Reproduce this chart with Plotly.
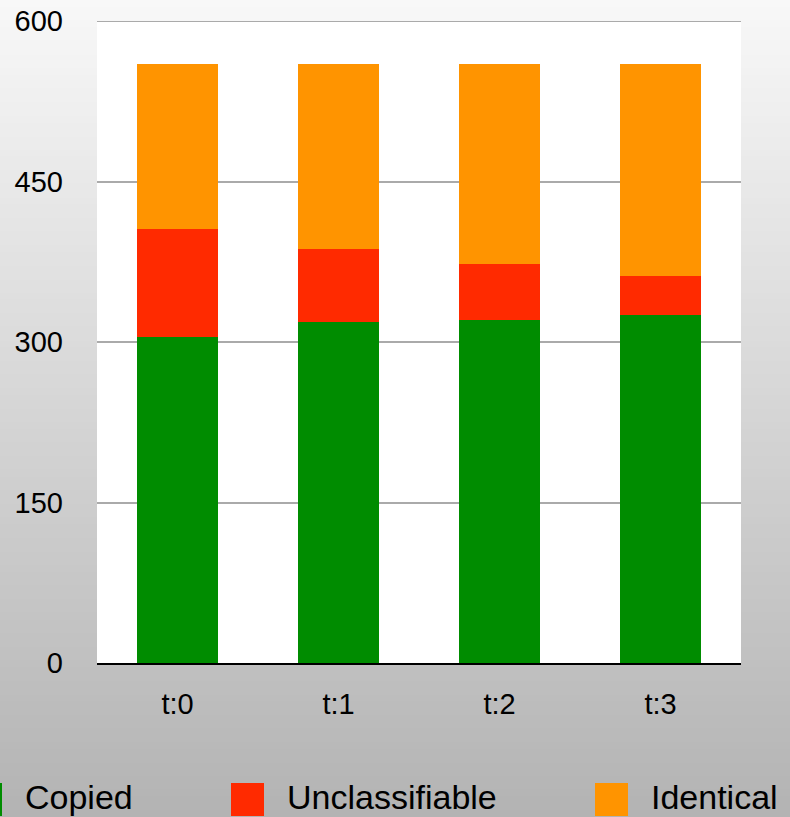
import plotly.graph_objects as go

# Data
categories = ["t:0", "t:1", "t:2", "t:3"]
series_names = ["Copied", "Unclassifiable", "Identical"]
copied = [305, 319, 321, 325]
unclassifiable = [101, 68, 52, 37]
identical = [154, 173, 187, 198]
y_ticks = [0, 150, 300, 450, 600]

colors = ["#008c00", "#ff2a00", "#ff9400"]
FONT = "Liberation Sans, Arial, Helvetica, sans-serif"

W, H = 790, 817
M_L, M_R, M_T, M_B = 97, 49, 21, 154
PW, PH = W - M_L - M_R, H - M_T - M_B


def px_x(px):
    return (px - M_L) / PW


def px_y(py):
    return (H - M_B - py) / PH


fig = go.Figure()
for name, vals, col in zip(series_names, [copied, unclassifiable, identical], colors):
    fig.add_trace(go.Bar(
        x=categories, y=vals, name=name,
        marker=dict(color=col, line=dict(width=0)),
        showlegend=False,
    ))

shapes = []
# vertical grey gradient behind everything
n_strips = 120
top_c, bot_c = 248, 179
for i in range(n_strips):
    y0 = H * i / n_strips
    y1 = H * (i + 1) / n_strips + 1
    c = round(top_c + (bot_c - top_c) * (i + 0.5) / n_strips)
    shapes.append(dict(
        type="rect", xref="paper", yref="paper", layer="below",
        x0=px_x(0), x1=px_x(W), y0=px_y(y1), y1=px_y(y0),
        fillcolor=f"rgb({c},{c},{c})", line=dict(width=0),
    ))
# white plotting area
shapes.append(dict(
    type="rect", xref="paper", yref="paper", layer="below",
    x0=0, x1=1, y0=0, y1=1, fillcolor="white", line=dict(width=0),
))
# top gridline at the upper end of the value axis
shapes.append(dict(
    type="line", xref="paper", yref="y", layer="below",
    x0=0, x1=1, y0=y_ticks[-1], y1=y_ticks[-1],
    line=dict(color="#aaaaaa", width=2),
))

# legend drawn as swatches + labels along the bottom
legend_left = [-31, 231, 595]
annotations = []
for name, col, lx in zip(series_names, colors, legend_left):
    shapes.append(dict(
        type="rect", xref="paper", yref="paper",
        x0=px_x(lx), x1=px_x(lx + 33), y0=px_y(816), y1=px_y(783),
        fillcolor=col, line=dict(width=0),
    ))
    annotations.append(dict(
        text=name, xref="paper", yref="paper",
        x=px_x(lx + 55), y=px_y(797), xanchor="left", yanchor="middle",
        showarrow=False, borderpad=0,
        font=dict(family=FONT, size=34, color="black"),
    ))

fig.update_layout(
    width=W, height=H,
    margin=dict(l=M_L, r=M_R, t=M_T, b=M_B, pad=0, autoexpand=False),
    barmode="stack", bargap=0.5,
    paper_bgcolor="rgba(0,0,0,0)", plot_bgcolor="rgba(0,0,0,0)",
    font=dict(family=FONT, color="black"),
    shapes=shapes, annotations=annotations,
    showlegend=False,
    xaxis=dict(
        showline=True, linecolor="black", linewidth=2,
        showgrid=False, ticks="", tickfont=dict(size=29),
        ticklabelstandoff=14, automargin=False,
    ),
    yaxis=dict(
        range=[0, 600], tickvals=y_ticks, ticktext=[str(v) for v in y_ticks],
        showgrid=True, gridcolor="#aaaaaa", gridwidth=2,
        zeroline=False, showline=False, ticks="",
        tickfont=dict(size=29), ticklabelstandoff=33, automargin=False,
    ),
)

fig.write_html("out.html")
